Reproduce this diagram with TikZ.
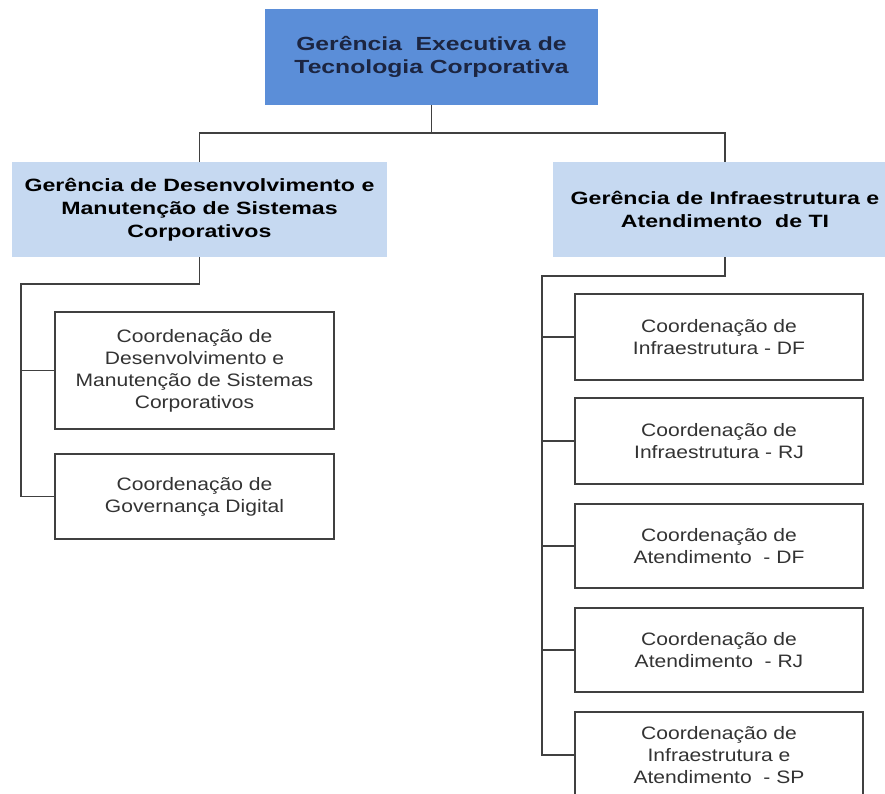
\documentclass[tikz,border=0pt]{standalone}
\usepackage{fontspec}
\setmainfont{Liberation Sans}
\newfontfamily\hdfont[FakeStretch=1.3]{Liberation Sans}
\newfontfamily\crfont[FakeStretch=1.17]{Liberation Sans}
\definecolor{topblue}{HTML}{5B8ED8}
\definecolor{lightblue}{HTML}{C6D9F1}
\definecolor{navy}{HTML}{1C2541}
\definecolor{linegray}{HTML}{404040}
\definecolor{txtgray}{HTML}{333333}
\begin{document}
\begin{tikzpicture}[x=1pt,y=-1pt,
  topbox/.style={fill=topblue, draw=none, inner sep=0pt, align=center,
    minimum width=333pt, minimum height=96pt, text=navy,
    font=\hdfont\bfseries\fontsize{19}{23}\selectfont},
  gerbox/.style={fill=lightblue, draw=none, inner sep=0pt, align=center,
    minimum height=95pt, text=black,
    font=\hdfont\bfseries\fontsize{17.8}{23}\selectfont},
  coordbox/.style={draw=linegray, line width=1.4pt, fill=white, inner sep=0pt,
    align=center, text=txtgray, font=\crfont\fontsize{18}{22}\selectfont},
  conn/.style={draw=linegray, line width=1.5pt}]
\useasboundingbox (0,0) rectangle (885,794);
\clip (0,0) rectangle (885,794);
\fill[white] (0,0) rectangle (885,794);

\node[topbox] (top) at (431.5,57) {Gerência\ \ Executiva de\\Tecnologia Corporativa};
\node[gerbox, minimum width=375pt] (gl) at (199.5,209.5) {Gerência de Desenvolvimento e\\Manutenção de Sistemas\\Corporativos};
\node[gerbox, minimum width=344pt] (gr) at (725,209.5) {Gerência de Infraestrutura e\\Atendimento\ \ de TI};

\node[coordbox, minimum width=279pt, minimum height=117pt] (c1) at (194.5,370.5) {Coordenação de\\Desenvolvimento\ e\\Manutenção de Sistemas\\Corporativos};
\node[coordbox, minimum width=279pt, minimum height=85pt] (c2) at (194.5,496.5) {Coordenação de\\Governança Digital};

\node[coordbox, minimum width=288pt, minimum height=86pt] (r1) at (719,337) {Coordenação de\\Infraestrutura - DF};
\node[coordbox, minimum width=288pt, minimum height=86pt] (r2) at (719,441) {Coordenação de\\Infraestrutura - RJ};
\node[coordbox, minimum width=288pt, minimum height=84pt] (r3) at (719,546) {Coordenação de\\Atendimento\ \ - DF};
\node[coordbox, minimum width=288pt, minimum height=84pt] (r4) at (719,650) {Coordenação de\\Atendimento\ \ - RJ};
\node[coordbox, minimum width=288pt, minimum height=86pt] (r5) at (719,755) {Coordenação de\\Infraestrutura e\\Atendimento\ \ - SP};

\coordinate (busT) at (431.5,133);
\coordinate (lbus) at (21,284);
\coordinate (rbus) at (542,276);

\draw[conn] (top.south) -- (busT);
\draw[conn] (gl.north) |- (busT) -| (gr.north);

\draw[conn] (gl.south) |- (lbus) |- (c2.west);
\draw[conn] (c1.west) -| (lbus);

\draw[conn] (gr.south) |- (rbus) |- (r5.west);
\draw[conn] (r1.west) -| (rbus);
\draw[conn] (r2.west) -| (rbus);
\draw[conn] (r3.west) -| (rbus);
\draw[conn] (r4.west) -| (rbus);
\end{tikzpicture}
\end{document}
